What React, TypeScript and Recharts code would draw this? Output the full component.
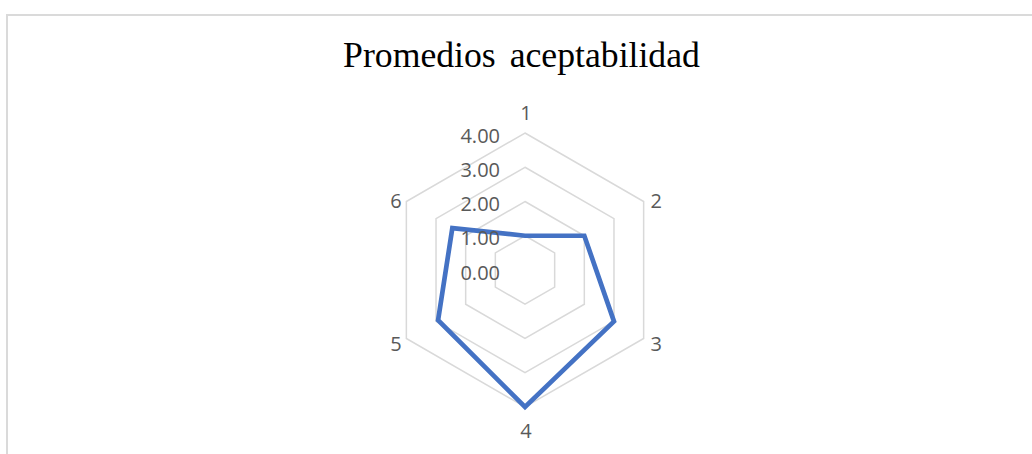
import { RadarChart, PolarGrid, PolarAngleAxis, PolarRadiusAxis, Radar } from 'recharts';

const CATEGORIES = ['1', '2', '3', '4', '5', '6'];
const PROMEDIOS = [1.0, 2.0, 3.0, 4.0, 2.93, 2.45];
const RADIUS_TICKS = [0, 1, 2, 3, 4];
const TITLE = 'Promedios aceptabilidad';

const data = CATEGORIES.map((c, i) => ({ name: c, value: PROMEDIOS[i] }));

const CX = 525;
const CY = 270;
const R = 137;
const LABEL_FONT = '"Open Sans", "Liberation Sans", sans-serif';

// etiquetas de categoría alrededor del hexágono
function AngleTick(props: any) {
  const { payload } = props;
  const a = (-payload.coordinate * Math.PI) / 180;
  const cos = Math.cos(a);
  const sin = Math.sin(a);
  let x = CX + cos * R;
  let y = CY + sin * R;
  if (Math.abs(cos) < 1e-6) {
    x += 1;
    y += sin < 0 ? -21 : 23;
  } else {
    x += cos > 0 ? 12.5 : -10.5;
    y += sin < 0 ? -1.5 : 4.5;
  }
  return (
    <text
      x={x}
      y={y}
      textAnchor="middle"
      dominantBaseline="central"
      fill="#595959"
      fontSize={20}
      fontFamily={LABEL_FONT}
    >
      {payload.value}
    </text>
  );
}

// etiquetas del eje radial (0.00 - 4.00)
function RadiusTick(props: any) {
  const { x, y, payload } = props;
  return (
    <text
      x={x - 25}
      y={y + 2}
      textAnchor="end"
      dominantBaseline="central"
      fill="#595959"
      fontSize={20}
      fontFamily={LABEL_FONT}
    >
      {Number(payload.value).toFixed(2)}
    </text>
  );
}

export default function App() {
  return (
    <div style={{ position: 'absolute', left: 0, top: 0, width: 1032, height: 454, background: '#fff', overflow: 'hidden' }}>
      {/* marco */}
      <div
        style={{
          position: 'absolute',
          left: 6,
          top: 14,
          width: 1026,
          height: 440,
          boxSizing: 'border-box',
          borderTop: '2px solid #dadada',
          borderLeft: '2px solid #dadada',
        }}
      />
      {/* título */}
      <div
        style={{
          position: 'absolute',
          left: 321.5,
          top: 38,
          width: 400,
          textAlign: 'center',
          fontFamily: '"Liberation Serif", "Times New Roman", serif',
          fontSize: 35.7,
          lineHeight: '35.7px',
          wordSpacing: 5,
          color: '#000',
          whiteSpace: 'nowrap',
        }}
      >
        {TITLE}
      </div>
      <RadarChart
        width={1032}
        height={454}
        data={data}
        cx={CX}
        cy={CY}
        outerRadius={R}
        margin={{ top: 0, right: 0, bottom: 0, left: 0 }}
        style={{ position: 'absolute', left: 0, top: 0 }}
      >
        <PolarGrid gridType="polygon" radialLines={false} stroke="#d9d9d9" strokeWidth={1.5} />
        <PolarAngleAxis dataKey="name" tick={<AngleTick />} tickLine={false} axisLine={false} />
        <Radar
          dataKey="value"
          stroke="#4472C4"
          strokeWidth={4.7}
          strokeLinejoin="miter"
          fill="none"
          fillOpacity={0}
          dot={false}
          isAnimationActive={false}
        />
        <PolarRadiusAxis
          angle={90}
          domain={[0, 4]}
          ticks={RADIUS_TICKS as any}
          tickCount={5}
          axisLine={false}
          tick={<RadiusTick />}
        />
      </RadarChart>
    </div>
  );
}
